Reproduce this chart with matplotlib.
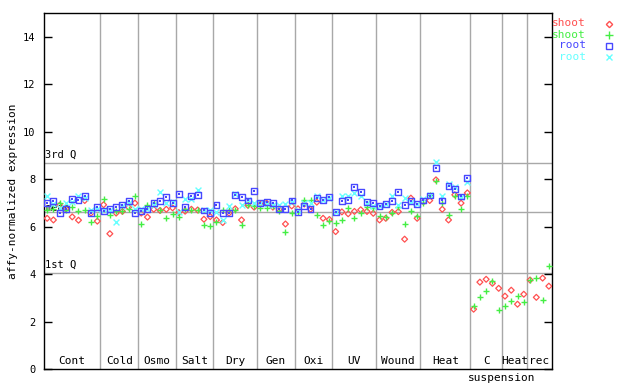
import numpy as np
import matplotlib
matplotlib.use("Agg")
import matplotlib.pyplot as plt
from matplotlib.lines import Line2D

# ---- data ----
group_names = ['Cont', 'Cold', 'Osmo', 'Salt', 'Dry', 'Gen', 'Oxi', 'UV',
               'Wound', 'Heat', 'C', 'Heat', 'rec']
group_sizes = [9, 6, 6, 6, 7, 6, 6, 7, 7, 8, 5, 4, 4]

shoot_red = [6.35, 6.28, 6.90, 6.75, 6.41, 6.27, 7.10, 6.57, 6.23,
             6.92, 5.70, 6.57, 6.64, 6.82, 6.99,
             6.57, 6.40, 6.73, 6.68, 6.73, 6.79,
             6.59, 6.65, 6.73, 6.70, 6.31, 6.42,
             6.28, 6.17, 6.57, 6.75, 6.28, 6.90, 6.82,
             6.95, 6.99, 6.82, 6.73, 6.11, 6.87,
             6.75, 6.95, 6.73, 7.03, 6.35, 6.30,
             5.79, 6.62, 6.54, 6.64, 6.71, 6.64, 6.56,
             6.28, 6.35, 6.60, 6.63, 5.47, 7.20, 6.35,
             7.05, 7.10, 7.97, 6.73, 6.28, 7.34, 6.99, 7.42,
             2.52, 3.66, 3.78, 3.61, 3.40,
             3.07, 3.32, 2.73, 3.15,
             3.75, 3.02, 3.83, 3.49]

shoot_green = [6.71, 6.75, 6.99, 6.68, 6.82, 6.64, 6.68, 6.21, 6.45,
               7.16, 6.49, 6.64, 6.64, 6.73, 7.27,
               6.10, 6.92, 6.99, 6.68, 6.35, 6.54,
               6.42, 6.75, 6.70, 6.70, 6.07, 6.03,
               6.21, 6.71, 6.68, 6.68, 6.07, 6.92, 6.85,
               6.80, 6.80, 6.85, 6.64, 5.79, 6.57,
               6.60, 7.13, 7.10, 6.49, 6.07, 6.23,
               6.14, 6.28, 6.78, 6.35, 6.56, 6.82, 6.80,
               6.45, 6.42, 6.56, 6.82, 6.11, 6.66, 6.45,
               6.98, 7.35, 7.92, 7.00, 6.49, 7.30, 6.73, 7.30,
               2.64, 3.02, 3.28, 3.70, 2.48,
               2.64, 2.86, 3.07, 2.81,
               3.74, 3.83, 2.90, 4.33]

nan = float('nan')
root_blue = [6.99, 7.07, 6.56, 6.73, 7.16, 7.13, 7.30, 6.56, 6.82,
             6.65, 6.73, 6.82, 6.93, 7.07, 6.56,
             6.65, 6.73, 6.99, 7.07, 7.24, 6.99,
             7.38, 6.82, 7.30, 7.35, 6.68, 6.56,
             6.90, 6.56, 6.56, 7.35, 7.24, 7.10, 7.49,
             7.01, 7.05, 6.99, 6.73, 6.76, 7.10,
             6.61, 6.85, 6.73, 7.20, 7.13, 7.24,
             6.61, 7.08, 7.13, 7.66, 7.44, 7.05, 6.99,
             6.87, 6.94, 7.08, 7.45, 6.91, 7.08, 6.96,
             7.10, 7.31, 8.46, 7.10, 7.72, 7.58, 7.27, 8.04,
             nan, nan, nan, nan, nan, nan, nan, nan, nan, nan, nan, nan, nan]

root_cyan = [7.30, 6.95, 6.80, 7.00, 7.05, 7.30, 7.20, 6.68, 6.75,
             6.70, 6.70, 6.21, 6.85, 7.00, 6.75,
             6.74, 6.74, 6.90, 7.44, 7.00, 7.04,
             6.62, 7.16, 7.16, 7.55, 6.68, 6.70,
             6.60, 6.28, 6.87, 7.38, 6.92, 7.10, 7.00,
             7.00, 6.95, 6.90, 6.92, 6.95, 7.05,
             6.70, 7.00, 7.00, 7.27, 7.10, 7.20,
             6.62, 7.28, 7.27, 7.42, 7.30, 7.00, 6.85,
             6.85, 6.95, 7.28, 6.92, 7.20, 7.05, 6.96,
             7.15, 7.35, 8.74, 7.30, 7.78, 7.65, 7.25, 7.88,
             nan, nan, nan, nan, nan, nan, nan, nan, nan, nan, nan, nan, nan]

q3_value = 8.69
mean_value = 6.62
q1_value = 4.05
y_ticks = [0, 2, 4, 6, 8, 10, 12, 14]

# ---- styles ----
RED = '#ff5050'
GREEN = '#44ee44'
BLUE = '#4848ff'
CYAN = '#66ffff'
GRID = '#a8a8a8'
MONO = 'DejaVu Sans Mono'

fig = plt.figure(figsize=(6.4, 3.84), dpi=100)
ax = fig.add_axes([44 / 640, 15 / 384, 508 / 640, 356 / 384])

n = len(shoot_red)
x = np.arange(n)

# group separators
bounds = np.cumsum(group_sizes)[:-1] - 0.5
for b in bounds:
    ax.axvline(b, color=GRID, lw=1.0, zorder=1)

# quartile lines
for val in (q3_value, mean_value, q1_value):
    ax.axhline(val, color=GRID, lw=1.0, zorder=1)
ax.text(0.002, q3_value + 0.12, '3rd Q', transform=ax.get_yaxis_transform(),
        family=MONO, fontsize=7.5, va='bottom', ha='left', zorder=2)
ax.text(0.002, mean_value - 0.05, 'mean', transform=ax.get_yaxis_transform(),
        family=MONO, fontsize=7.5, va='bottom', ha='left', zorder=2)
ax.text(0.002, q1_value + 0.12, '1st Q', transform=ax.get_yaxis_transform(),
        family=MONO, fontsize=7.5, va='bottom', ha='left', zorder=2)

# data series
ax.scatter(x, shoot_red, marker='D', s=9, facecolors='none', edgecolors=RED,
           linewidths=0.9, zorder=3)
ax.scatter(x, shoot_green, marker='+', s=24, color=GREEN, linewidths=1.0, zorder=3)
ax.scatter(x, root_blue, marker='s', s=18, facecolors='none', edgecolors=BLUE,
           linewidths=1.0, zorder=4)
ax.scatter(x, root_blue, marker='s', s=1.5, color=BLUE, linewidths=0, zorder=4)
ax.scatter(x, root_cyan, marker='x', s=18, color=CYAN, linewidths=1.0, zorder=3)

ax.set_xlim(-0.5, n - 0.5)
ax.set_ylim(0, 15)
ax.set_yticks(y_ticks)
ax.set_yticklabels([str(t) for t in y_ticks], family=MONO, fontsize=7.5)
ax.set_xticks([])
ax.tick_params(axis='y', direction='in', length=6, width=1, pad=6,
               right=True, left=True)
for sp in ax.spines.values():
    sp.set_color('black')
    sp.set_linewidth(1.0)

# group labels
starts = np.concatenate([[0], np.cumsum(group_sizes)[:-1]])
for name, st, sz in zip(group_names, starts, group_sizes):
    ax.text(st + sz / 2 - 0.5, 0.12, name, family=MONO, fontsize=8,
            ha='center', va='bottom', zorder=2)
ax.text(0.9016, -0.012, 'suspension', transform=ax.transAxes, family=MONO,
        fontsize=8, ha='center', va='top')

ax.set_ylabel('affy-normalized expression', family=MONO, fontsize=8, labelpad=4)

# legend (outside the axes, top right)
leg_labels = ['shoot', 'shoot', 'root', 'root']
leg_colors = [RED, GREEN, BLUE, CYAN]
leg_markers = [('D', 3.2, 'none'), ('+', 5.5, None), ('s', 4.5, 'none'), ('x', 4.5, None)]
for k, (lab, col, mk) in enumerate(zip(leg_labels, leg_colors, leg_markers)):
    yy = 1 - (23.5 + 11 * k) / 384
    fig.text(586 / 640, yy, lab, color=col, family=MONO, fontsize=8,
             ha='right', va='center')
    m, ms, fc = mk
    ln = Line2D([609 / 640], [yy], transform=fig.transFigure, marker=m,
                markersize=ms, color=col, markerfacecolor=fc if fc else col,
                markeredgecolor=col, markeredgewidth=1.0, linestyle='none')
    fig.add_artist(ln)

fig.savefig('out.png', dpi=100)
